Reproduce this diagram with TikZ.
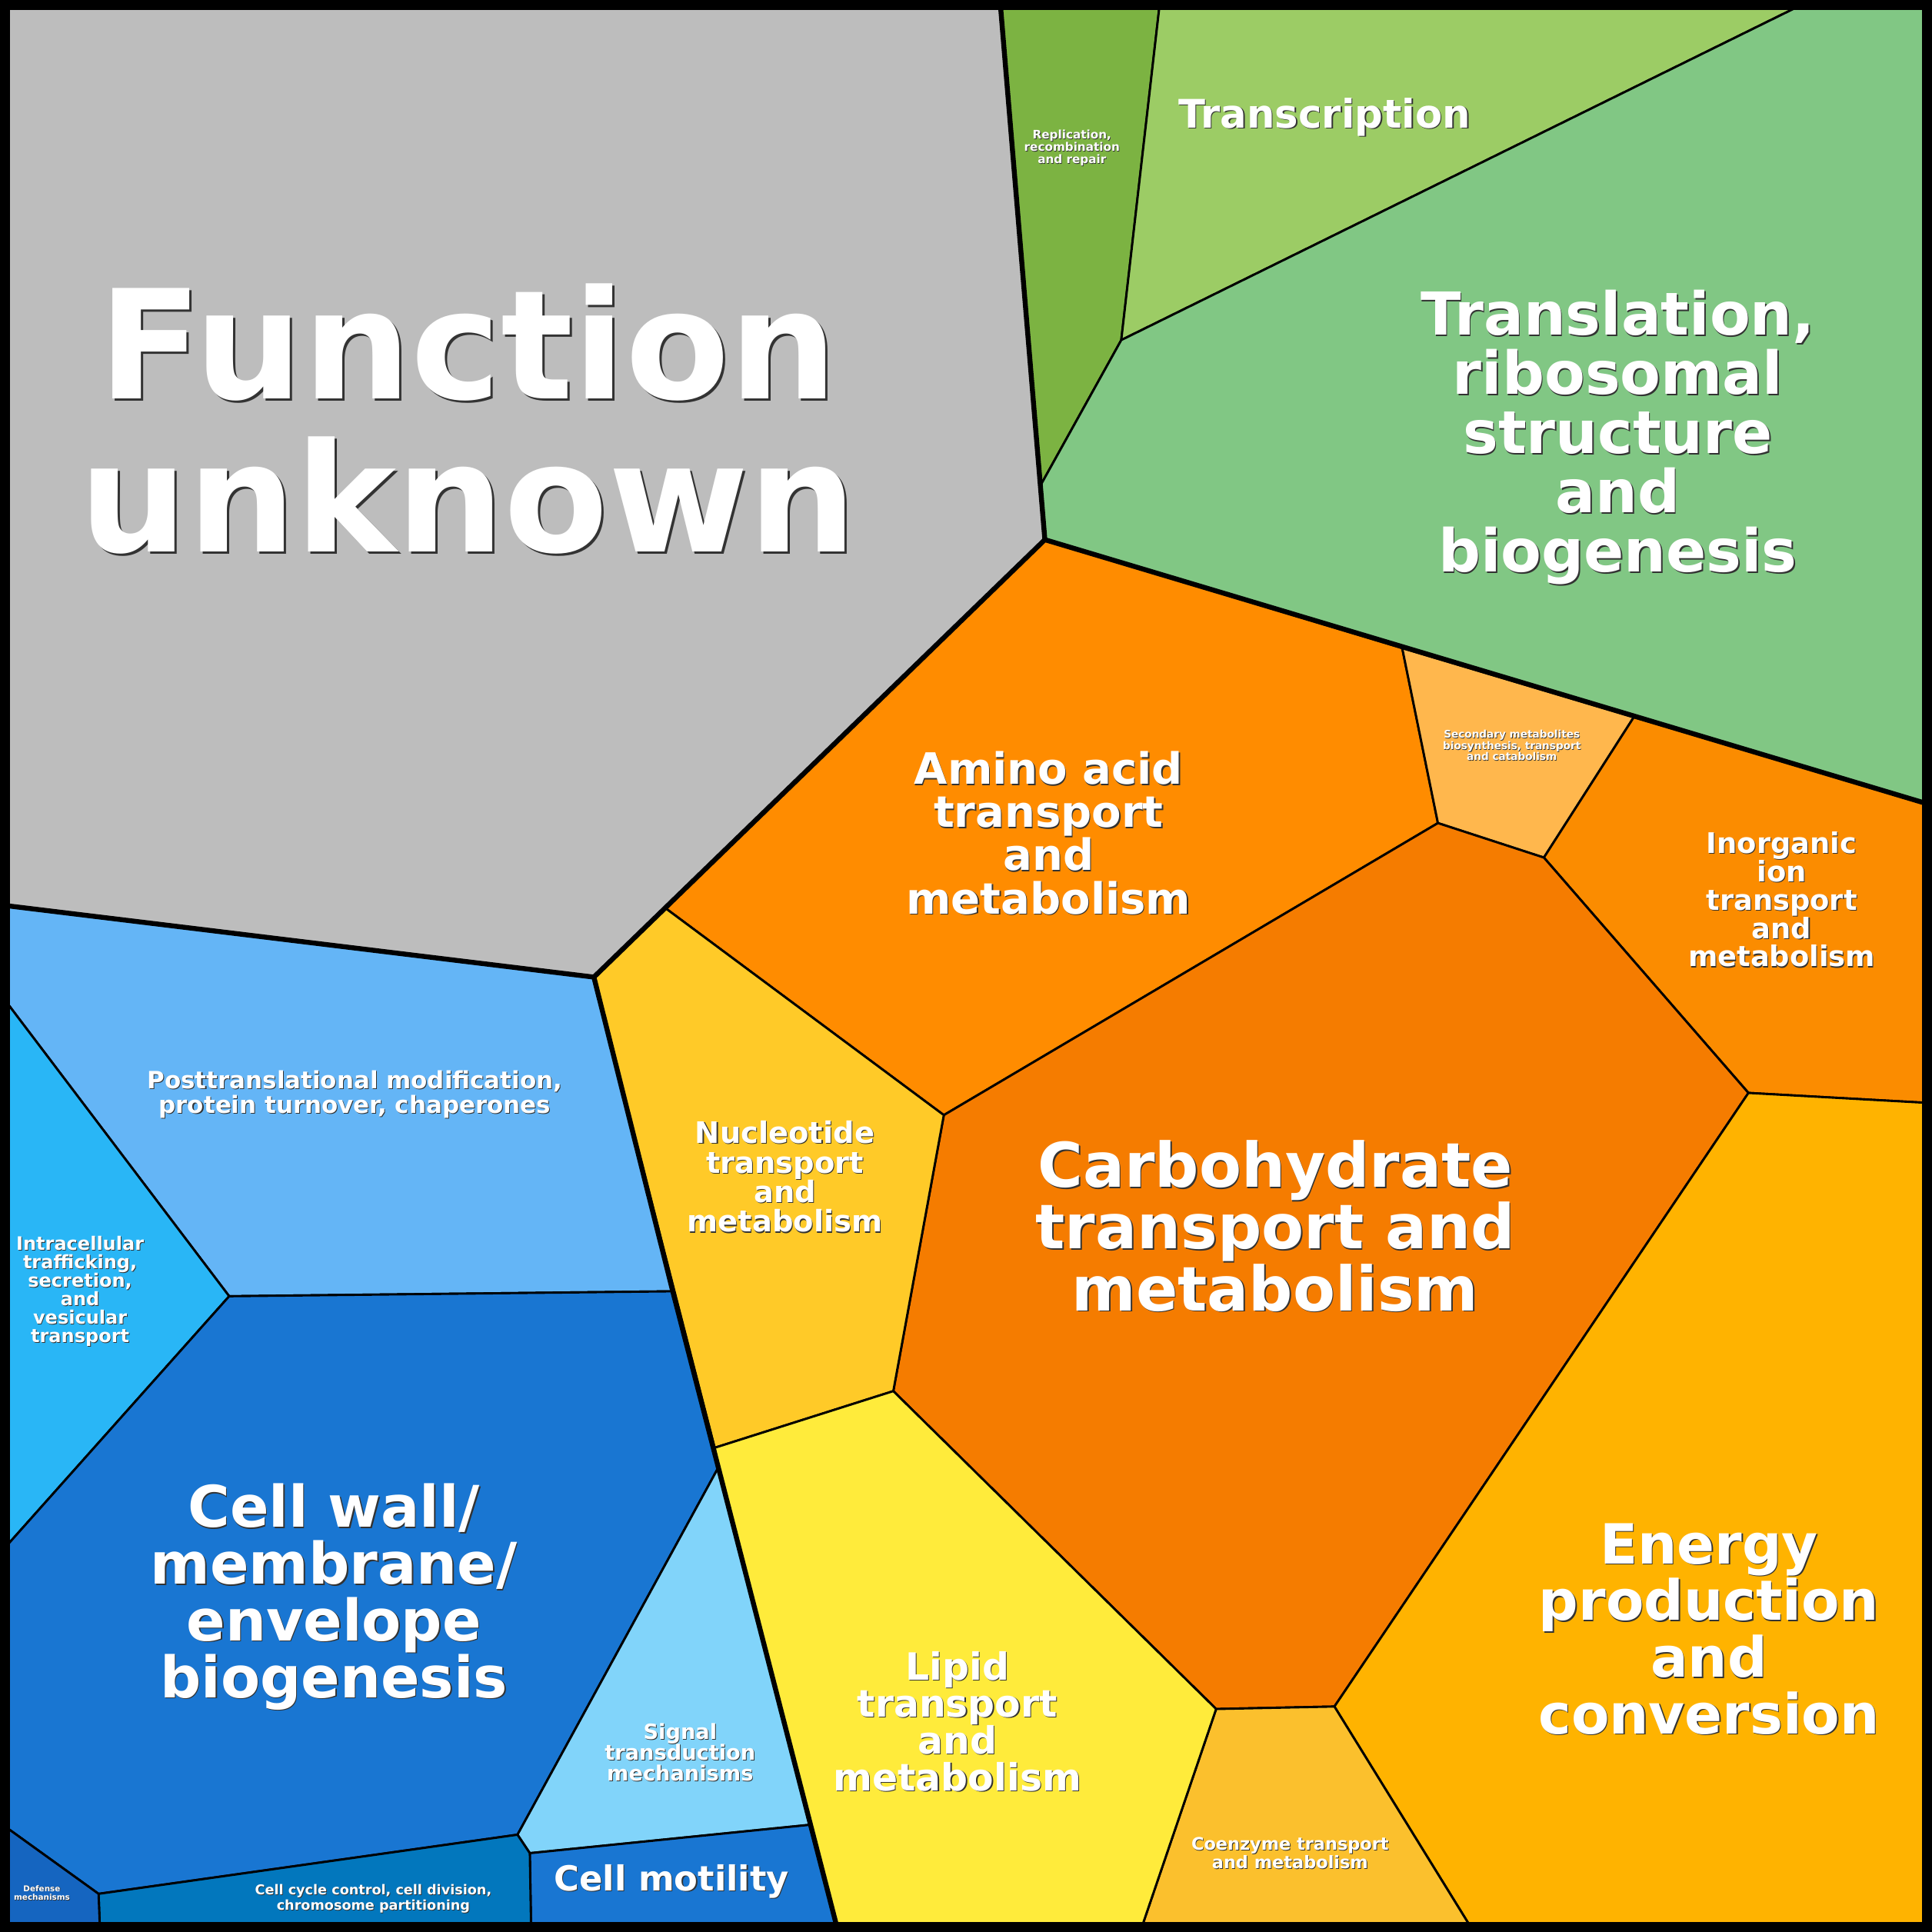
\documentclass[tikz,border=0pt]{standalone}
\usepackage{fontspec}
\setmainfont{DejaVu Sans}
\begin{document}
\begin{tikzpicture}[x=1pt,y=-1pt,
  cell/.style={draw=black,line width=1.8pt,line join=round},
  major/.style={draw=black,line width=4pt,line join=round,line cap=round},
  sh/.style={text=black!80,align=center,font=\bfseries},
  tx/.style={text=white,align=center,font=\bfseries}]
\newcommand{\lbl}[5]{%
  \node[sh,font=\fontsize{#3}{#4}\selectfont\bfseries,xshift={0.012*#3+0.4},yshift={-0.012*#3-0.4}] at (#1) {#5};
  \node[tx,font=\fontsize{#3}{#4}\selectfont\bfseries] (#2) at (#1) {#5};}
\fill[black] (0,0) rectangle (1568,1568);
\useasboundingbox (0,0) rectangle (1568,1568);
\filldraw[cell,fill={rgb,255:red,189;green,189;blue,189}] (5,5)--(812,5)--(848,438)--(482,793)--(5,735)--cycle;
\filldraw[cell,fill={rgb,255:red,124;green,179;blue,66}] (812,5)--(941,5)--(910,276)--(845,393)--cycle;
\filldraw[cell,fill={rgb,255:red,156;green,204;blue,101}] (941,5)--(1460,5)--(910,276)--cycle;
\filldraw[cell,fill={rgb,255:red,129;green,199;blue,132}] (1460,5)--(1563,5)--(1563,652)--(848,438)--(845,393)--(910,276)--cycle;
\filldraw[cell,fill={rgb,255:red,255;green,140;blue,0}] (848,438)--(1138,526)--(1167,668)--(766,905)--(540,737)--cycle;
\filldraw[cell,fill={rgb,255:red,255;green,183;blue,77}] (1138,526)--(1326,582)--(1253,696)--(1167,668)--cycle;
\filldraw[cell,fill={rgb,255:red,251;green,140;blue,0}] (1326,582)--(1563,652)--(1563,895)--(1419,887)--(1253,696)--cycle;
\filldraw[cell,fill={rgb,255:red,245;green,124;blue,0}] (1167,668)--(1253,696)--(1419,887)--(1083,1385)--(987,1387)--(725,1129)--(766,905)--cycle;
\filldraw[cell,fill={rgb,255:red,255;green,202;blue,40}] (540,737)--(766,905)--(725,1129)--(580,1175)--(482,793)--cycle;
\filldraw[cell,fill={rgb,255:red,255;green,179;blue,0}] (1419,887)--(1563,895)--(1563,1563)--(1193,1563)--(1083,1385)--cycle;
\filldraw[cell,fill={rgb,255:red,251;green,192;blue,45}] (987,1387)--(1083,1385)--(1193,1563)--(927,1563)--cycle;
\filldraw[cell,fill={rgb,255:red,255;green,235;blue,59}] (580,1175)--(725,1129)--(987,1387)--(927,1563)--(679,1563)--(657,1481)--(583,1191)--cycle;
\filldraw[cell,fill={rgb,255:red,100;green,181;blue,246}] (5,735)--(482,793)--(546,1048)--(186,1052)--(5,813)--cycle;
\filldraw[cell,fill={rgb,255:red,41;green,182;blue,246}] (5,813)--(186,1052)--(5,1255)--cycle;
\filldraw[cell,fill={rgb,255:red,25;green,118;blue,210}] (186,1052)--(546,1048)--(583,1191)--(420,1489)--(80,1537)--(5,1483)--(5,1255)--cycle;
\filldraw[cell,fill={rgb,255:red,129;green,212;blue,250}] (583,1191)--(657,1481)--(430,1504)--(420,1489)--cycle;
\filldraw[cell,fill={rgb,255:red,25;green,118;blue,210}] (430,1504)--(657,1481)--(679,1563)--(431,1563)--cycle;
\filldraw[cell,fill={rgb,255:red,2;green,119;blue,189}] (80,1537)--(420,1489)--(430,1504)--(431,1563)--(81,1563)--cycle;
\filldraw[cell,fill={rgb,255:red,21;green,101;blue,192}] (5,1483)--(80,1537)--(81,1563)--(5,1563)--cycle;
% major boundaries
\draw[major] (5,735)--(482,793)--(848,438)--(812,5);
\draw[major] (848,438)--(1563,652);
\draw[major] (482,793)--(546,1048)--(583,1191)--(679,1563);
\draw[black,line width=8pt] (4,4) rectangle (1564,1564);
% labels
\lbl{380,340}{fu}{123}{124}{Function\\unknown}
\lbl{870,120}{rep}{9.5}{10}{Replication,\\recombination\\and repair}
\lbl{1075,95}{trc}{32}{30}{Transcription}
\lbl{1313,355}{trl}{48}{48}{Translation,\\ribosomal\\structure\\and\\biogenesis}
\lbl{851,676}{aa}{35}{35}{Amino acid\\transport\\and\\metabolism}
\lbl{1227,605}{sec}{8.5}{9}{Secondary metabolites\\biosynthesis, transport\\and catabolism}
\lbl{1446,730}{inorg}{23}{23}{Inorganic\\ion\\transport\\and\\metabolism}
\lbl{1035,995}{carb}{50}{50}{Carbohydrate\\transport and\\metabolism}
\lbl{637,955}{nuc}{24}{24}{Nucleotide\\transport\\and\\metabolism}
\lbl{1387,1322}{en}{45}{46}{Energy\\production\\and\\conversion}
\lbl{1047,1504}{coe}{14}{13}{Coenzyme transport\\and metabolism}
\lbl{777,1397}{lip}{30.5}{30}{Lipid\\transport\\and\\metabolism}
\lbl{288,888}{ptm}{19.3}{20}{Posttranslational modification,\\protein turnover, chaperones}
\lbl{65,1048}{itr}{15}{15}{Intracellular\\trafficking,\\secretion,\\and\\vesicular\\transport}
\lbl{271,1296}{cw}{46.5}{46}{Cell wall/\\membrane/\\envelope\\biogenesis}
\lbl{552,1422}{sig}{17}{17}{Signal\\transduction\\mechanisms}
\lbl{545,1527}{mot}{28}{30}{Cell motility}
\lbl{303,1541}{cc}{11}{12}{Cell cycle control, cell division,\\chromosome partitioning}
\lbl{34,1536}{def}{6.5}{7}{Defense\\mechanisms}
\end{tikzpicture}
\end{document}
